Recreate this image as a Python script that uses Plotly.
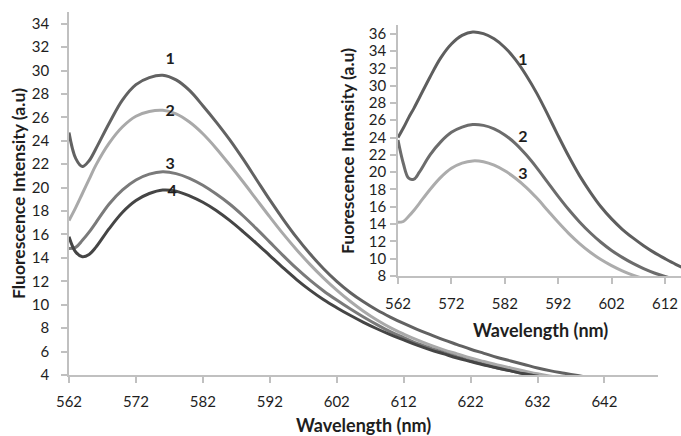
import plotly.graph_objects as go

# ---- main chart data ----
wl_main = [562, 563, 564, 565, 566, 568, 570, 572, 574, 576, 578, 580, 582, 584, 586, 588,
           590, 592, 594, 596, 598, 600, 602, 604, 606, 608, 610, 612, 614, 616, 618, 620,
           622, 624, 626, 628, 630, 632, 634, 636, 638, 640, 642]
main_1 = [24.7, 22.5, 21.8, 22.3, 23.3, 25.5, 27.5, 28.8, 29.4, 29.6, 29.2, 28.3, 27.0, 25.6, 24.1, 22.45,
          20.7, 18.95, 17.3, 15.75, 14.35, 13.1, 12.0, 11.05, 10.25, 9.55, 8.95, 8.4, 7.9, 7.45, 7.0, 6.6,
          6.2, 5.85, 5.5, 5.2, 4.9, 4.6, 4.35, 4.15, 3.95, 3.75, 3.55]
main_2 = [17.2, 18.3, 19.5, 20.7, 21.9, 23.8, 25.2, 26.1, 26.5, 26.6, 26.3, 25.6, 24.6, 23.35, 21.95, 20.5,
          19.0, 17.5, 16.05, 14.7, 13.45, 12.3, 11.25, 10.3, 9.45, 8.7, 8.05, 7.5, 7.0, 6.55, 6.15, 5.8,
          5.45, 5.15, 4.85, 4.6, 4.35, 4.1, 3.9, 3.7, 3.5, 3.3, 3.1]
main_3 = [14.8, 14.9, 15.5, 16.2, 17.0, 18.6, 19.8, 20.65, 21.15, 21.35, 21.2, 20.8, 20.2, 19.45, 18.6, 17.6,
          16.5, 15.35, 14.2, 13.1, 12.1, 11.2, 10.4, 9.65, 8.95, 8.3, 7.7, 7.2, 6.7, 6.3, 5.9, 5.55,
          5.2, 4.9, 4.6, 4.35, 4.1, 3.9, 3.7, 3.5, 3.3, 3.1, 2.9]
main_4 = [15.8, 14.5, 14.1, 14.3, 14.9, 16.5, 17.9, 18.9, 19.5, 19.8, 19.7, 19.3, 18.75, 18.05, 17.2, 16.25,
          15.25, 14.2, 13.15, 12.15, 11.25, 10.45, 9.75, 9.1, 8.5, 7.95, 7.45, 7.0, 6.55, 6.15, 5.8, 5.45,
          5.15, 4.85, 4.6, 4.35, 4.1, 3.9, 3.7, 3.5, 3.3, 3.1, 2.9]

# ---- inset data ----
wl_inset = [562, 563, 564, 565, 566, 568, 570, 572, 574, 576, 578, 580, 582, 584, 586, 588,
            590, 592, 594, 596, 598, 600, 602, 604, 606, 608, 610, 612, 614, 616]
inset_1 = [24.0, 25.1, 26.3, 27.4, 28.6, 31.0, 33.2, 34.8, 35.8, 36.2, 36.0, 35.4, 34.4, 33.0, 31.2, 29.1,
           26.7, 24.2, 21.8, 19.6, 17.7, 16.0, 14.6, 13.4, 12.4, 11.5, 10.7, 10.0, 9.35, 8.8]
inset_2 = [23.7, 21.0, 19.3, 19.2, 20.0, 22.0, 23.5, 24.6, 25.2, 25.5, 25.4, 25.0, 24.3, 23.3, 22.0, 20.5,
           18.85, 17.2, 15.65, 14.25, 13.0, 11.9, 10.95, 10.15, 9.45, 8.85, 8.35, 7.95, 7.6, 7.3]
inset_3 = [14.2, 14.3, 14.9, 15.6, 16.4, 18.0, 19.4, 20.45, 21.05, 21.3, 21.2, 20.8, 20.15, 19.3, 18.25, 17.0,
           15.6, 14.2, 12.9, 11.75, 10.75, 9.9, 9.2, 8.6, 8.1, 7.7, 7.35, 7.05, 6.8, 6.55]

main_ticks_y = list(range(4, 35, 2))
main_ticks_x = list(range(562, 650, 10))
inset_ticks_y = list(range(8, 37, 2))
inset_ticks_x = list(range(562, 616, 10))

main_labels = ["1", "2", "3", "4"]
main_label_x = [577.1, 577.1, 577.1, 577.4]
main_label_y = [30.9, 26.5, 21.9, 19.6]
inset_labels = ["1", "2", "3"]
inset_label_x = [585.4, 585.4, 585.4]
inset_label_y = [32.8, 24.0, 19.7]

main_colors = ["#626262", "#a9a9a9", "#7a7a7a", "#454545"]
inset_colors = ["#5e5e5e", "#6c6c6c", "#acacac"]

FONT = "Lato"
TXT = "#1e1e1e"
W, H = 681, 436

def fx(px):
    return px / W

def fy(py):
    return 1 - py / H

fig = go.Figure()
for ys, c in zip([main_1, main_2, main_3, main_4], main_colors):
    fig.add_trace(go.Scatter(x=wl_main, y=ys, mode="lines", line=dict(color=c, width=3, shape="spline"),
                             xaxis="x", yaxis="y", showlegend=False, hoverinfo="skip"))
for ys, c in zip([inset_1, inset_2, inset_3], inset_colors):
    fig.add_trace(go.Scatter(x=wl_inset, y=ys, mode="lines", line=dict(color=c, width=3, shape="spline"),
                             xaxis="x2", yaxis="y2", showlegend=False, hoverinfo="skip"))

fig.add_trace(go.Scatter(x=main_label_x, y=main_label_y, mode="text", text=main_labels,
                         textfont=dict(family=FONT, size=16, color=TXT, weight="bold"),
                         xaxis="x", yaxis="y", showlegend=False, hoverinfo="skip", cliponaxis=False))
fig.add_trace(go.Scatter(x=inset_label_x, y=inset_label_y, mode="text", text=inset_labels,
                         textfont=dict(family=FONT, size=16, color=TXT, weight="bold"),
                         xaxis="x2", yaxis="y2", showlegend=False, hoverinfo="skip", cliponaxis=False))

axis_common = dict(showgrid=False, zeroline=False, showline=True, linecolor="#c0c0c0", linewidth=1.5,
                   ticks="outside", tickcolor="#c0c0c0", ticklen=6, tickwidth=1.5, automargin=False,
                   tickfont=dict(family=FONT, size=15, color=TXT))

def ann(text, px, py, angle=0, size=18):
    return dict(text="<b>%s</b>" % text, x=fx(px), y=fy(py), xref="paper", yref="paper",
                xanchor="center", yanchor="middle",
                showarrow=False, textangle=angle, font=dict(family=FONT, size=size, color=TXT))

fig.update_layout(
    width=W, height=H,
    margin=dict(l=0, r=0, t=0, b=0, autoexpand=False),
    paper_bgcolor="white", plot_bgcolor="rgba(0,0,0,0)",
    xaxis=dict(domain=[fx(69), fx(658)], range=[562, 650], tickvals=main_ticks_x,
               anchor="y", ticklabelstandoff=6, **axis_common),
    yaxis=dict(domain=[fy(375), fy(12)], range=[4, 35], tickvals=main_ticks_y,
               anchor="x", ticklabelstandoff=9, **axis_common),
    xaxis2=dict(domain=[fx(398), 1.0], range=[562, 615], tickvals=inset_ticks_x,
                anchor="y2", ticklabelstandoff=7, **axis_common),
    yaxis2=dict(domain=[fy(276), fy(25)], range=[8, 37], tickvals=inset_ticks_y,
                anchor="x2", ticklabelstandoff=1, **axis_common),
    annotations=[
        ann("Wavelength (nm)", 363, 425),
        ann("Fluorescence Intensity (a.u)", 18, 194, -90, 17.5),
        ann("Wavelength (nm)", 540, 330),
        ann("Fuorescence Intensity (a.u)", 347, 151, -90, 17.5),
    ],
)

# remove the browser's default 8px body margin so the figure fills the window exactly
fig.write_html("out.html", config={"displayModeBar": False},
               post_script="document.body.style.margin='0';document.body.style.overflow='hidden';")
